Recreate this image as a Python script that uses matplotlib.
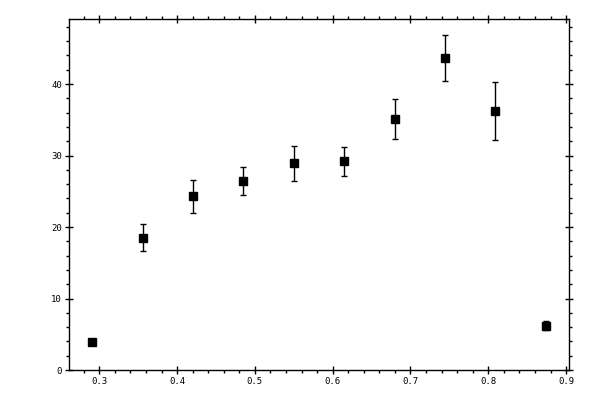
import matplotlib
matplotlib.use("Agg")
import matplotlib.pyplot as plt
from matplotlib.ticker import MultipleLocator

# values
x = [0.2908, 0.3563, 0.4206, 0.4849, 0.5500, 0.6147, 0.6807, 0.7445, 0.8087, 0.8743]
y = [3.9, 18.5, 24.3, 26.4, 28.9, 29.2, 35.1, 43.6, 36.2, 6.2]
yerr = [0.3, 1.9, 2.3, 1.95, 2.4, 2.05, 2.8, 3.2, 4.05, 0.6]

fig = plt.figure(figsize=(6, 4), dpi=100)
ax = fig.add_axes([0.115, 0.075, 0.833, 0.8775])

ax.errorbar(x, y, yerr=yerr, fmt='s', color='black', markersize=5.2,
            elinewidth=1, capsize=2, capthick=1)

ax.set_xlim(0.261, 0.9035)
ax.set_ylim(0, 49.1)
ax.xaxis.set_major_locator(MultipleLocator(0.1))
ax.xaxis.set_minor_locator(MultipleLocator(0.02))
ax.yaxis.set_major_locator(MultipleLocator(10))
ax.yaxis.set_minor_locator(MultipleLocator(2))
ax.set_xticks([0.3, 0.4, 0.5, 0.6, 0.7, 0.8, 0.9])
ax.set_xticklabels(['0.3', '0.4', '0.5', '0.6', '0.7', '0.8', '0.9'])
ax.set_yticks([0, 10, 20, 30, 40])
ax.set_yticklabels(['0', '10', '20', '30', '40'])

ax.tick_params(which='major', direction='inout', length=6, width=1,
               top=True, right=True, labelsize=6.5, pad=2)
ax.tick_params(which='minor', direction='out', length=2.5, width=1,
               top=True, right=True)
for lab in ax.get_xticklabels() + ax.get_yticklabels():
    lab.set_family('DejaVu Sans Mono')
for s in ax.spines.values():
    s.set_linewidth(1)

fig.savefig('out.png', dpi=100)
